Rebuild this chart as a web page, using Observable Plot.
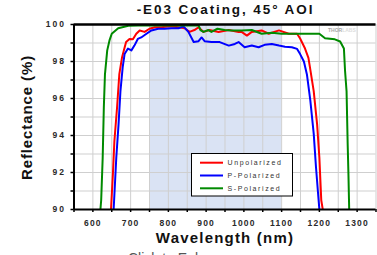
<!DOCTYPE html>
<html><head><meta charset="utf-8">
<script src="https://cdn.jsdelivr.net/npm/d3@7"></script>
<script src="https://cdn.jsdelivr.net/npm/@observablehq/plot@0.6"></script>
<style>
html,body{margin:0;padding:0;background:#fff;overflow:hidden}
#chart svg{display:block;overflow:visible}
g[aria-label="y-axis tick label"] text{letter-spacing:2px}
g[aria-label="x-axis tick label"] text{letter-spacing:1.2px}
</style></head><body><div id="chart"></div>
<script>
const titleText = "-E03 Coating, 45° AOI";
const xLabelText = "Wavelength (nm)";
const yLabelText = "Reflectance (%)";
const footText = "Click to Enlarge";
const seriesNames = ["Unpolarized", "P-Polarized", "S-Polarized"];
const seriesColors = ["#ff0000", "#0000ff", "#008a00"];
const xTicks = [600, 700, 800, 900, 1000, 1100, 1200, 1300];
const xMinor = [550, 650, 750, 850, 950, 1050, 1150, 1250, 1350];
const yTicks = [90, 92, 94, 96, 98, 100];
const yMinor = [91, 93, 95, 97, 99];
const xDomain = [550, 1350];
const yDomain = [90, 100];
const shadeBand = [[750, 1100]];

const unpolWl = [648, 653, 657, 664, 670, 677, 682, 688, 697, 706, 715, 724, 737, 750, 764, 781, 803, 827, 843, 856, 869, 880, 893, 909, 933, 960, 986, 994, 1008, 1021, 1047, 1066, 1093, 1119, 1141, 1149, 1162, 1171, 1178, 1185, 1194, 1200, 1205, 1209];
const unpolR  = [90, 91.9, 93.7, 95.5, 97.3, 98.2, 98.6, 99.05, 99.22, 99.2, 99.5, 99.68, 99.6, 99.77, 99.85, 99.85, 99.9, 99.85, 99.8, 99.6, 99.7, 99.85, 99.6, 99.7, 99.6, 99.7, 99.6, 99.6, 99.4, 99.6, 99.68, 99.5, 99.68, 99.5, 99.5, 99.24, 98.7, 98.2, 97.3, 96.4, 94.6, 92.8, 90.5, 90];

const pWl = [655, 662, 668, 673, 679, 684, 693, 702, 710, 719, 728, 742, 755, 773, 790, 808, 827, 840, 853, 867, 880, 888, 896, 914, 936, 960, 976, 986, 1002, 1021, 1039, 1055, 1074, 1093, 1109, 1127, 1141, 1149, 1159, 1167, 1176, 1185, 1191, 1196, 1200];
const pR  = [90, 92.8, 94.6, 96.4, 97.7, 98.4, 98.7, 98.6, 98.86, 99.22, 99.3, 99.5, 99.68, 99.77, 99.77, 99.8, 99.8, 99.9, 99.6, 99.05, 99.1, 99.3, 99.1, 99.05, 99.05, 98.86, 98.95, 99.05, 98.77, 98.86, 98.77, 98.9, 98.95, 98.86, 98.8, 98.77, 98.68, 98.4, 98.0, 97.3, 95.9, 94.1, 92.3, 91, 90];

const sWl = [620, 622, 626, 629, 632, 638, 644, 650, 667, 694, 720, 880, 885, 893, 906, 914, 930, 949, 968, 994, 1021, 1047, 1074, 1100, 1127, 1160, 1200, 1215, 1241, 1255, 1265, 1268, 1272, 1275, 1277, 1279];
const sR  = [90, 90.5, 92.8, 95.5, 97.3, 98.6, 99.14, 99.5, 99.8, 99.93, 99.95, 99.95, 99.7, 99.6, 99.7, 99.6, 99.77, 99.7, 99.68, 99.68, 99.7, 99.5, 99.55, 99.5, 99.5, 99.5, 99.5, 99.26, 99.2, 99.08, 98.7, 97.5, 96.4, 93.5, 91.9, 90];

const series = [[unpolWl, unpolR], [pWl, pR], [sWl, sR]].map(([w, r], i) =>
  w.map((x, j) => ({wl: x, R: r[j], name: seriesNames[i]})));
const rows = series.flat();

const font = "'Liberation Sans', Arial, sans-serif";

const chart = Plot.plot({
  width: 377,
  height: 255,
  marginLeft: 73.5,
  marginRight: 1.5,
  marginTop: 24,
  marginBottom: 46,
  style: {fontFamily: font, background: "#fff", overflow: "visible"},
  x: {domain: xDomain, label: null},
  y: {domain: yDomain, label: null},
  color: {domain: seriesNames, range: seriesColors},
  marks: [
    Plot.rect(shadeBand, {x1: d => d[0], x2: d => d[1], fill: "#dae3f4"}),
    Plot.gridX(xMinor.concat(xTicks), {stroke: "#cfcfcf", strokeOpacity: 1, strokeWidth: 1}),
    Plot.gridY(yMinor.concat(yTicks), {stroke: "#cfcfcf", strokeOpacity: 1, strokeWidth: 1}),
    Plot.line(rows, {x: "wl", y: "R", z: "name", stroke: "name", strokeWidth: 2, curve: "linear", clip: true}),
    Plot.ruleY([yDomain[1]], {stroke: "#000", strokeWidth: 2.5}),
    Plot.ruleY([yDomain[0]], {stroke: "#000", strokeWidth: 2}),
    Plot.ruleX([xDomain[0]], {stroke: "#000", strokeWidth: 2}),
    Plot.axisX(xMinor, {tickSize: 3, tickFormat: () => "", label: null, strokeWidth: 1.5}),
    Plot.axisX(xTicks, {tickSize: 3, tickPadding: 7, tickFormat: d => String(d), label: null, fontSize: 8.5, fontWeight: "bold", fill: "#2a2a2a", strokeWidth: 1.5}),
    Plot.axisY(yMinor, {tickSize: 3, tickFormat: () => "", label: null, strokeWidth: 1.5}),
    Plot.axisY(yTicks, {tickSize: 3, tickPadding: 5, tickFormat: d => String(d), label: null, fontSize: 8.5, fontWeight: "bold", fill: "#2a2a2a", strokeWidth: 1.5})
  ]
});

document.getElementById("chart").appendChild(chart);
const svg = d3.select(chart);

svg.append("text").attr("x", 225.5).attr("y", 13.5).attr("text-anchor", "middle")
  .attr("font-family", font).attr("font-size", 13.5).attr("font-weight", "bold")
  .attr("letter-spacing", "1.9px").attr("fill", "#111").text(titleText);

svg.append("text").attr("x", 225).attr("y", 243).attr("text-anchor", "middle")
  .attr("font-family", font).attr("font-size", 15).attr("font-weight", "bold")
  .attr("letter-spacing", "1.2px").attr("fill", "#111").text(xLabelText);

svg.append("text").attr("transform", "translate(32,117.5) rotate(-90)").attr("text-anchor", "middle")
  .attr("font-family", font).attr("font-size", 15).attr("font-weight", "bold")
  .attr("letter-spacing", "0.9px").attr("fill", "#111").text(yLabelText);

svg.append("text").attr("x", 128).attr("y", 263).attr("text-anchor", "start")
  .attr("font-family", font).attr("font-size", 14).attr("fill", "#555").text(footText);

const wm = svg.append("text").attr("x", 328).attr("y", 32).attr("text-anchor", "start")
  .attr("font-family", font).attr("font-size", 5).attr("font-weight", "bold");
wm.append("tspan").attr("fill", "#a8a8a8").text("THOR");
wm.append("tspan").attr("fill", "#dcdcdc").text("LABS");

const lg = svg.append("g");
lg.append("rect").attr("x", 191.5).attr("y", 153.5).attr("width", 101).attr("height", 42.5)
  .attr("fill", "#fff").attr("stroke", "#000").attr("stroke-width", 1);
seriesNames.forEach((n, i) => {
  const y = 162.7 + i * 12.8;
  lg.append("line").attr("x1", 200).attr("x2", 223).attr("y1", y).attr("y2", y)
    .attr("stroke", seriesColors[i]).attr("stroke-width", 2);
  lg.append("text").attr("x", 227.5).attr("y", y + 2.5).attr("text-anchor", "start")
    .attr("font-family", font).attr("font-size", 7).attr("letter-spacing", "1.6px")
    .attr("fill", "#333").text(n);
});
</script></body></html>
